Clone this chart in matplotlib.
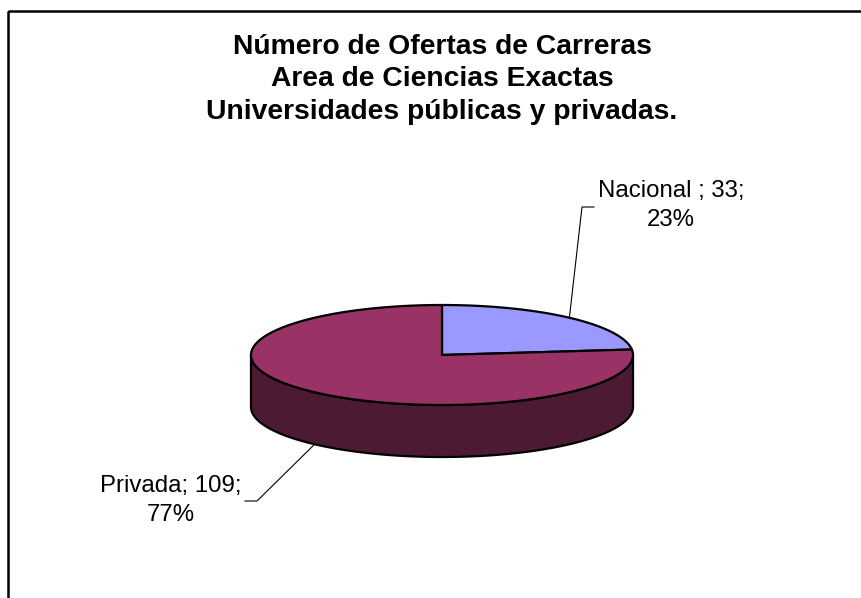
import numpy as np
import matplotlib
matplotlib.use("Agg")
import matplotlib.pyplot as plt
from matplotlib.patches import Polygon, Rectangle

categories = ["Nacional", "Privada"]
values = [33, 109]
label_sep = [" ; ", "; "]
colors_top = ["#9999FF", "#993366"]
colors_side = ["#4C4C80", "#4D1A33"]
title_lines = ["Número de Ofertas de Carreras",
               "Area de Ciencias Exactas",
               "Universidades públicas y privadas."]

W, H = 861, 598
fig = plt.figure(figsize=(W / 100, H / 100), dpi=100)
ax = fig.add_axes([0, 0, 1, 1])
ax.set_xlim(0, W)
ax.set_ylim(H, 0)
ax.axis("off")

# outer border
ax.add_patch(Rectangle((8, 11), 900, 700, fill=False, edgecolor="black", lw=1.8))

# geometry of 3D pie
cx, cy, rx, ry, depth = 442, 355, 191, 50, 52
lw = 1.6

def pt(theta_deg, dy=0.0):
    t = np.radians(theta_deg)
    return cx + rx * np.cos(t), cy - ry * np.sin(t) + dy

total = sum(values)
fracs = [v / total for v in values]
# start at 90 deg, clockwise
angles = []
start = 90.0
for f in fracs:
    end = start - 360 * f
    angles.append((start, end))
    start = end

# side (front half: 180..360 deg)
for i, (a0, a1) in enumerate(angles):
    lo, hi = min(a0, a1), max(a0, a1)
    segs = []
    for shift in (0, 360, -360):
        s0, s1 = max(lo + shift, 180), min(hi + shift, 360)
        if s1 > s0:
            segs.append((s0, s1))
    for s0, s1 in segs:
        th = np.linspace(s0, s1, 200)
        top = [pt(t) for t in th]
        bot = [pt(t, depth) for t in th[::-1]]
        ax.add_patch(Polygon(top + bot, closed=True, facecolor=colors_side[i],
                             edgecolor="black", lw=lw, joinstyle="round", zorder=2))

# top wedges
for i, (a0, a1) in enumerate(angles):
    th = np.linspace(a0, a1, 400)
    poly = [(cx, cy)] + [pt(t) for t in th]
    ax.add_patch(Polygon(poly, closed=True, facecolor=colors_top[i],
                         edgecolor="black", lw=lw, joinstyle="round", zorder=3))

# labels with leader lines
label_pos = [(671, 180), (171, 475)]
elbow = [(582, 207), (257, 501)]
elbow_end = [(594, 207), (245, 501)]
for i, (a0, a1) in enumerate(angles):
    mid = (a0 + a1) / 2
    x0, y0 = pt(mid)
    if np.sin(np.radians(mid)) < 0:
        y0 += depth
    ax.plot([x0, elbow[i][0], elbow_end[i][0]], [y0, elbow[i][1], elbow_end[i][1]],
            color="black", lw=0.8, zorder=4)
    pct = round(fracs[i] * 100)
    txt = f"{categories[i]}{label_sep[i]}{values[i]};\n{pct}%"
    ax.text(label_pos[i][0], label_pos[i][1], txt, ha="center", va="top",
            fontsize=17.3, family="Liberation Sans", linespacing=1.4, zorder=5,
            multialignment="center")

ax.text(442, 34, "\n".join(title_lines), ha="center", va="top", fontsize=20.3,
        fontweight="bold", family="Liberation Sans", linespacing=1.32,
        multialignment="center")

fig.savefig("out.png", dpi=100)
